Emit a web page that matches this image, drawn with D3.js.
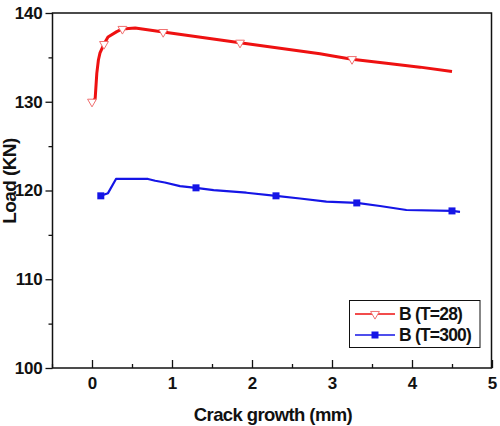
<!DOCTYPE html>
<html><head><meta charset="utf-8">
<script src="https://cdn.jsdelivr.net/npm/d3@7"></script>
<style>
html,body{margin:0;padding:0;background:#fff;}
text{font-family:"Liberation Sans",Arial,sans-serif;font-weight:bold;fill:#111;}
</style></head>
<body><svg id="c" width="500" height="426"></svg>
<script>
const t28X = [0, 0.02, 0.04, 0.06, 0.08, 0.10, 0.15, 0.20, 0.31, 0.38, 0.54, 0.89, 1.85, 2.85, 3.01, 3.25, 3.68, 4.10, 4.50];
const t28Y = [130.0, 130.1, 130.4, 133.2, 134.7, 135.5, 136.5, 137.3, 137.9, 138.2, 138.3, 137.85, 136.65, 135.4, 135.15, 134.8, 134.33, 133.9, 133.4];
const t28MarkX = [0, 0.15, 0.38, 0.89, 1.85, 3.25];
const t28MarkY = [130.0, 136.5, 138.2, 137.85, 136.65, 134.8];

const t300X = [0.11, 0.20, 0.30, 0.70, 0.79, 0.91, 1.10, 1.30, 1.52, 1.93, 2.30, 2.60, 2.93, 3.31, 3.60, 3.93, 4.50, 4.60];
const t300Y = [119.4, 119.7, 121.3, 121.3, 121.1, 120.9, 120.5, 120.3, 120.05, 119.75, 119.4, 119.1, 118.75, 118.6, 118.25, 117.8, 117.7, 117.6];
const t300MarkX = [0.11, 1.30, 2.30, 3.31, 4.50];
const t300MarkY = [119.4, 120.3, 119.4, 118.6, 117.7];

const xTicks = [0, 1, 2, 3, 4, 5];
const xMinor = [-0.5, 0.5, 1.5, 2.5, 3.5, 4.5];
const yTicks = [100, 110, 120, 130, 140];
const yMinor = [105, 115, 125, 135];
const seriesNames = ["B (T=28)", "B (T=300)"];
const xTitle = "Crack growth (mm)";
const yTitle = "Load (KN)";

const svg = d3.select("#c");
const L = 52.5, R = 491.5, T = 13, B = 368;
const x = d3.scaleLinear().domain([-0.5, 5]).range([L - 0.5, R + 0.5]);
const y = d3.scaleLinear().domain([100, 140]).range([B, T]);

const red = "#ee1111", blue = "#1515e6";

// frame
svg.append("rect").attr("x", L).attr("y", T).attr("width", R - L).attr("height", B - T)
  .attr("fill", "none").attr("stroke", "#111").attr("stroke-width", 1.5);

// x axis (ticks inward)
const gx = svg.append("g").attr("transform", `translate(0,${B})`)
  .call(d3.axisBottom(x).tickValues(xTicks).tickSize(-8).tickPadding(18).tickFormat(d3.format("d")));
gx.select(".domain").remove();
gx.selectAll("line").attr("stroke", "#111").attr("stroke-width", 1.3);
gx.selectAll("text").attr("font-size", 17).attr("fill", "#111").attr("font-family", "Liberation Sans, Arial").attr("font-weight", "bold").attr("dy", "0.15em");
const gxm = svg.append("g").attr("transform", `translate(0,${B})`)
  .call(d3.axisBottom(x).tickValues(xMinor).tickSize(-4).tickFormat(""));
gxm.select(".domain").remove();
gxm.selectAll("line").attr("stroke", "#111").attr("stroke-width", 1.3);

// y axis (ticks outward)
const gy = svg.append("g").attr("transform", `translate(${L},0)`)
  .call(d3.axisLeft(y).tickValues(yTicks).tickSize(7).tickPadding(3).tickFormat(d3.format("d")));
gy.select(".domain").remove();
gy.selectAll("line").attr("stroke", "#111").attr("stroke-width", 1.3);
gy.selectAll("text").attr("font-size", 17).attr("fill", "#111").attr("font-family", "Liberation Sans, Arial").attr("font-weight", "bold").attr("letter-spacing", "-0.2");
const gym = svg.append("g").attr("transform", `translate(${L},0)`)
  .call(d3.axisLeft(y).tickValues(yMinor).tickSize(4).tickFormat(""));
gym.select(".domain").remove();
gym.selectAll("line").attr("stroke", "#111").attr("stroke-width", 1.3);

// titles
svg.append("text").attr("x", 273).attr("y", 421).attr("text-anchor", "middle")
  .attr("font-size", 18.5).attr("letter-spacing", "-0.6").text(xTitle);
svg.append("text").attr("transform", "translate(16,181) rotate(-90)").attr("text-anchor", "middle")
  .attr("font-size", 19).attr("letter-spacing", "-0.6").text(yTitle);

const line = d3.line().x(d => x(d[0])).y(d => y(d[1]));
const d28 = t28X.map((v, i) => [v, t28Y[i]]);
const d300 = t300X.map((v, i) => [v, t300Y[i]]);

svg.append("path").datum(d300).attr("d", line).attr("fill", "none").attr("stroke", blue).attr("stroke-width", 2.2).attr("stroke-linejoin", "round");
svg.append("path").datum(d28).attr("d", line).attr("fill", "none").attr("stroke", red).attr("stroke-width", 3).attr("stroke-linejoin", "round");

const tri = d3.symbol().type(d3.symbolTriangle).size(34);
const sq = d3.symbol().type(d3.symbolSquare).size(49);

svg.selectAll(".m28").data(t28MarkX.map((v, i) => [v, t28MarkY[i]])).enter().append("path")
  .attr("d", tri).attr("transform", d => `translate(${x(d[0])},${y(d[1])}) rotate(180)`)
  .attr("fill", "#fff").attr("stroke", "#f07070").attr("stroke-width", 1);
svg.selectAll(".m300").data(t300MarkX.map((v, i) => [v, t300MarkY[i]])).enter().append("path")
  .attr("d", sq).attr("transform", d => `translate(${x(d[0])},${y(d[1])})`)
  .attr("fill", blue);

// legend
const lg = svg.append("g");
lg.append("rect").attr("x", 349.5).attr("y", 300.5).attr("width", 130.5).attr("height", 47)
  .attr("fill", "#fff").attr("stroke", "#111").attr("stroke-width", 1);
[[seriesNames[0], red, 314], [seriesNames[1], blue, 335]].forEach(([name, col, ly], i) => {
  lg.append("line").attr("x1", 355).attr("x2", 395).attr("y1", ly).attr("y2", ly).attr("stroke", col).attr("stroke-width", 1.5);
  if (i === 0) lg.append("path").attr("d", tri).attr("transform", `translate(375,${ly}) rotate(180)`).attr("fill", "#fff").attr("stroke", "#f07070");
  else lg.append("path").attr("d", sq).attr("transform", `translate(375,${ly})`).attr("fill", col);
  lg.append("text").attr("x", 399).attr("y", ly + 6).attr("font-size", 17.5).attr("letter-spacing", "-0.8").text(name);
});
</script></body></html>
